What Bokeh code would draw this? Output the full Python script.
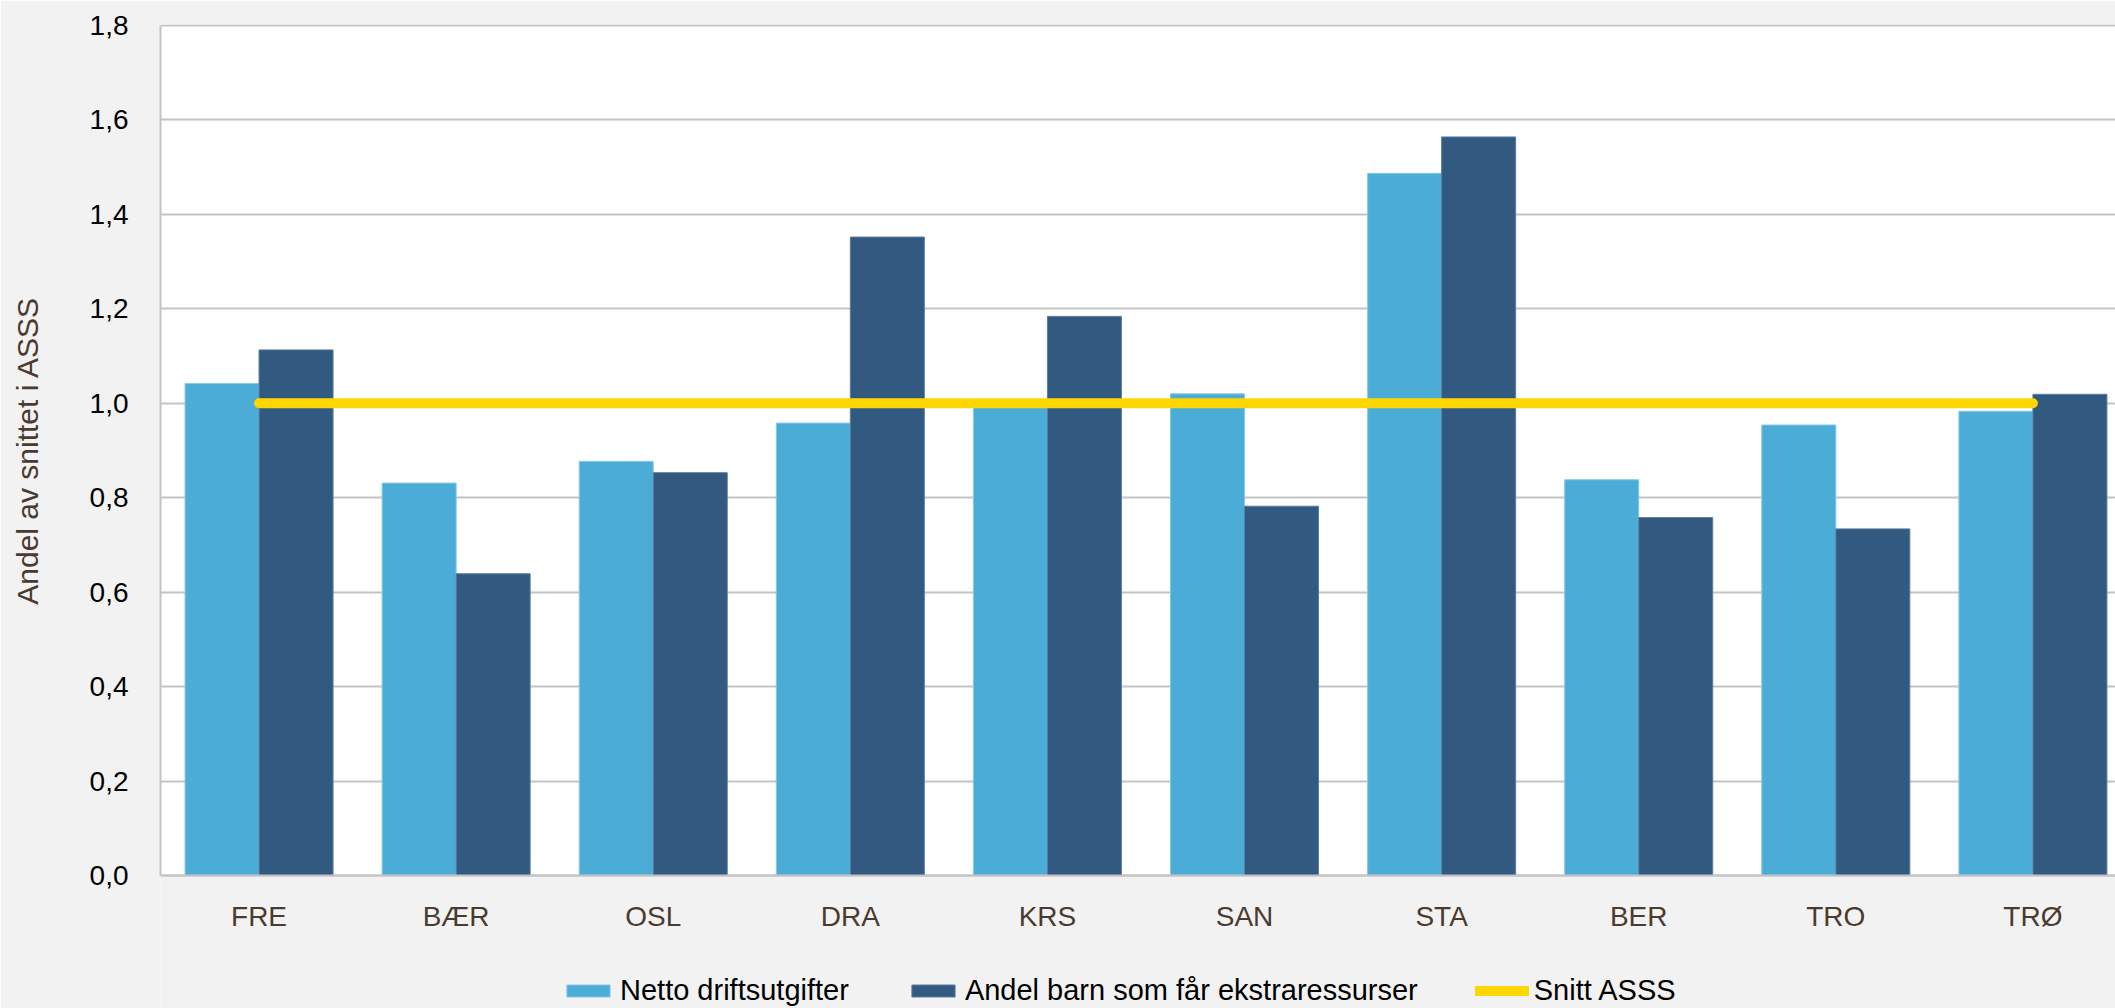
import math
from bokeh.plotting import figure
from bokeh.models import (Range1d, FixedTicker, Legend, LegendItem, ColumnDataSource,
                          BoxAnnotation, Label)
from bokeh.transform import dodge
from bokeh.embed import file_html
from bokeh.resources import INLINE

categories = ["FRE", "BÆR", "OSL", "DRA", "KRS", "SAN", "STA", "BER", "TRO", "TRØ"]
netto_driftsutgifter = [1.042, 0.831, 0.877, 0.958, 1.000, 1.020, 1.487, 0.838, 0.954, 0.983]
andel_barn_ekstra = [1.113, 0.639, 0.853, 1.352, 1.184, 0.782, 1.564, 0.758, 0.734, 1.019]
snitt_asss = [1.0] * len(categories)
y_ticks = [0.0, 0.2, 0.4, 0.6, 0.8, 1.0, 1.2, 1.4, 1.6, 1.8]
y_tick_labels = ["0,0", "0,2", "0,4", "0,6", "0,8", "1,0", "1,2", "1,4", "1,6", "1,8"]
y_title = "Andel av snittet i ASSS"

FONT = "Liberation Sans"
LIGHT = "#4BADD7"
DARK = "#325A80"
YELLOW = "#FFD700"
BROWN = "#4B3A2E"
GRID = "#C4C4C4"
BG = "#F2F2F2"

centers = [i + 0.5 for i in range(len(categories))]
src = ColumnDataSource(dict(x=centers, cat=categories, netto=netto_driftsutgifter,
                            andel=andel_barn_ekstra, snitt=snitt_asss))

Y_MIN, Y_MAX = y_ticks[0], y_ticks[-1]

# frame covers the plot area plus the strip below it (axis labels + legend)
px_per_unit = 850 / (Y_MAX - Y_MIN)
p = figure(width=2115, height=1008, output_backend="svg", toolbar_location=None,
           x_range=Range1d(0, 9.919),
           y_range=Range1d(Y_MIN - 133 / px_per_unit, Y_MAX + 1 / px_per_unit),
           frame_width=1955, frame_height=984,
           min_border_left=160, min_border_right=0, min_border_top=24, min_border_bottom=0)
p.border_fill_color = BG
p.background_fill_color = BG
p.outline_line_color = None

# white plot area (0 .. top), drawn before the grid lines
plot_area = BoxAnnotation(bottom=Y_MIN, fill_color="white", fill_alpha=1, line_color=None,
                          level="underlay")
p.center.insert(0, plot_area)

bw = 0.3755
r1 = p.vbar(x=dodge("x", -bw / 2, range=p.x_range), top="netto", width=bw, source=src,
            fill_color=LIGHT, line_color="#86C9E6", line_width=1)
r2 = p.vbar(x=dodge("x", bw / 2, range=p.x_range), top="andel", width=bw, source=src,
            fill_color=DARK, line_color="#5A7CA0", line_width=1)
r3 = p.line(x="x", y="snitt", source=src, line_color=YELLOW, line_width=10, line_cap="round")

# x axis fixed at y = 0
p.xaxis.fixed_location = Y_MIN
p.xaxis.ticker = FixedTicker(ticks=centers)
p.xaxis.major_label_overrides = {c: lab for c, lab in zip(centers, categories)}
p.xaxis.major_label_text_font = FONT
p.xaxis.major_label_text_font_size = "28px"
p.xaxis.major_label_text_color = BROWN
p.xaxis.major_tick_line_color = None
p.xaxis.minor_tick_line_color = None
p.xaxis.major_label_standoff = 19
p.xaxis.axis_line_color = GRID
p.xaxis.axis_line_width = 2

p.yaxis.bounds = (Y_MIN, Y_MAX)
p.yaxis.ticker = FixedTicker(ticks=y_ticks)
p.yaxis.major_label_overrides = {t: lab for t, lab in zip(y_ticks, y_tick_labels)}
p.yaxis.major_label_text_font = FONT
p.yaxis.major_label_text_font_size = "28px"
p.yaxis.major_label_text_color = "black"
p.yaxis.major_tick_line_color = None
p.yaxis.minor_tick_line_color = None
p.yaxis.major_label_standoff = 26
p.yaxis.axis_line_color = GRID
p.yaxis.axis_line_width = 2

# value-axis title, centred on the 0..1.8 span, left of the tick labels
p.add_layout(Label(x=-0.675, y=(Y_MIN + Y_MAX) / 2, x_units="data", y_units="data",
                   text=y_title, angle=math.pi / 2, text_align="center",
                   text_baseline="middle", text_font=FONT, text_font_size="30px",
                   text_color=BROWN), "left")

p.xgrid.grid_line_color = None
p.ygrid.grid_line_color = GRID
p.ygrid.grid_line_width = 2
p.ygrid.ticker = FixedTicker(ticks=y_ticks)

legend = Legend(items=[LegendItem(label="Netto driftsutgifter", renderers=[r1]),
                       LegendItem(label="Andel barn som får ekstraressurser", renderers=[r2]),
                       LegendItem(label="Snitt ASSS", renderers=[r3])],
                orientation="horizontal", location=(401, 1))
legend.label_text_font = FONT
legend.label_text_font_size = "29px"
legend.label_text_color = "black"
legend.glyph_width = 54
legend.glyph_height = 15
legend.label_standoff = 5
legend.spacing = 57
legend.padding = 0
legend.margin = 0
legend.border_line_color = None
legend.background_fill_alpha = 0
p.add_layout(legend, "center")

open("out.html", "w").write(file_html(p, INLINE))
